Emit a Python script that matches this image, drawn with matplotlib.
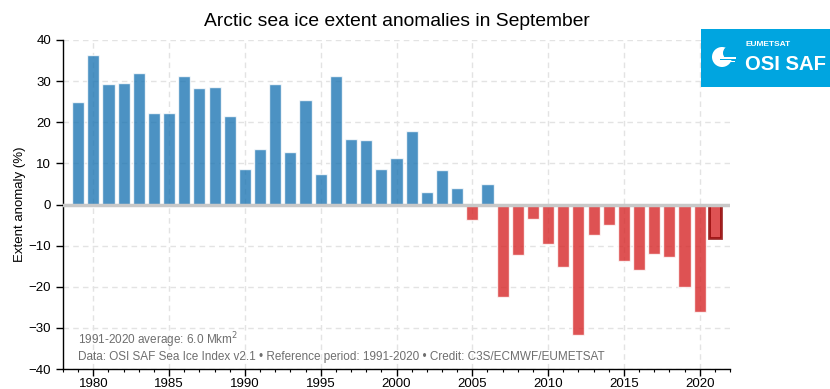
import matplotlib
matplotlib.use("Agg")
import matplotlib.pyplot as plt
from matplotlib.patches import Rectangle, Circle
from matplotlib.ticker import MultipleLocator

plt.rcParams['font.family'] = ['Liberation Sans', 'DejaVu Sans']

years = list(range(1979, 2022))
anomalies = [24.9, 36.4, 29.2, 29.5, 31.9, 22.3, 22.3, 31.3, 28.4, 28.5,
             21.4, 8.6, 13.5, 29.2, 12.8, 25.3, 7.4, 31.3, 15.9, 15.6,
             8.7, 11.4, 17.9, 3.0, 8.3, 4.1, -3.7, 4.9, -22.4, -12.2,
             -3.5, -9.5, -15.2, -31.8, -7.3, -5.0, -13.7, -15.9, -12.0, -12.7,
             -20.1, -26.1, -8.2]
y_ticks = [-40, -30, -20, -10, 0, 10, 20, 30, 40]
x_ticks = [1980, 1985, 1990, 1995, 2000, 2005, 2010, 2015, 2020]

title = "Arctic sea ice extent anomalies in September"
ylabel = "Extent anomaly (%)"
note1 = "1991-2020 average: 6.0 Mkm$^2$"
note2 = "Data: OSI SAF Sea Ice Index v2.1 \u2022 Reference period: 1991-2020 \u2022 Credit: C3S/ECMWF/EUMETSAT"

fig = plt.figure(figsize=(8.3, 3.89), dpi=100)
ax = fig.add_axes([63/830, 20/389, 667/830, 329/389])

colors = ['tab:blue' if v >= 0 else 'tab:red' for v in anomalies]
ax.bar(years[:-1], anomalies[:-1], width=0.8, color=colors[:-1],
       alpha=0.8, edgecolor='white', linewidth=1, zorder=3)
ax.bar(years[-1:], anomalies[-1:], width=0.8, color=colors[-1], alpha=0.8,
       edgecolor='#8b0000', linewidth=2, zorder=3)

ax.axhline(0, color='#c8c8c8', linewidth=2.5, zorder=4)

ax.set_xlim(1978, 2022)
ax.set_ylim(-40, 40)
ax.set_yticks(y_ticks)
ax.set_xticks(x_ticks)
ax.xaxis.set_minor_locator(MultipleLocator(1))
ax.tick_params(axis='both', which='major', direction='out', length=5, width=1,
               labelsize=9.5, colors='black')
ax.tick_params(axis='x', which='major', pad=1.5)
ax.tick_params(axis='x', which='minor', direction='out', length=2.5, width=0.8)

ax.grid(True, which='major', linestyle=(0, (4, 3)), color='#e3e3e3', linewidth=1, zorder=0)
ax.set_axisbelow(True)

for s in ['top', 'right']:
    ax.spines[s].set_visible(False)
for s in ['left', 'bottom']:
    ax.spines[s].set_linewidth(1)
    ax.spines[s].set_color('black')

ax.set_ylabel(ylabel, fontsize=9.5, labelpad=2)
ax.set_title(title, fontsize=13.9, pad=10)

ax.text(0.0225, 0.088, note1, transform=ax.transAxes, fontsize=8.5,
        color='#6e6e6e', va='center', ha='left')
ax.text(0.0225, 0.036, note2, transform=ax.transAxes, fontsize=8.5,
        color='#6e6e6e', va='center', ha='left')

# Logo box
logo_blue = '#00a5e0'
fig.patches.append(Rectangle((701/830, 1 - 87/389), 129/830, 58/389,
                             transform=fig.transFigure, facecolor=logo_blue,
                             edgecolor='none', zorder=10))
fig.text(745/830, 1 - 45/389, "EUMETSAT", fontsize=6, fontweight='bold',
         color='white', va='center', ha='left', zorder=11)
fig.text(744.5/830, 1 - 64/389, "OSI SAF", fontsize=14.6, fontweight='bold',
         color='white', va='center', ha='left', zorder=11)
# simple emblem
lax = fig.add_axes([711/830, 1 - 70/389, 26/830, 26/389], zorder=12)
lax.set_xlim(0, 26)
lax.set_ylim(0, 26)
lax.axis('off')
lax.add_patch(Circle((11, 13), 10, facecolor='white', edgecolor='none'))
lax.add_patch(Circle((19, 17), 7, facecolor=logo_blue, edgecolor='none'))
lax.add_patch(Rectangle((11, 11.5), 14, 1.8, facecolor='white', edgecolor='none'))
lax.add_patch(Rectangle((13, 8), 11, 1.5, facecolor='white', edgecolor='none'))
lax.add_patch(Rectangle((9, 9.8), 16, 1.5, facecolor=logo_blue, edgecolor='none'))

fig.savefig("out.png", dpi=100)
